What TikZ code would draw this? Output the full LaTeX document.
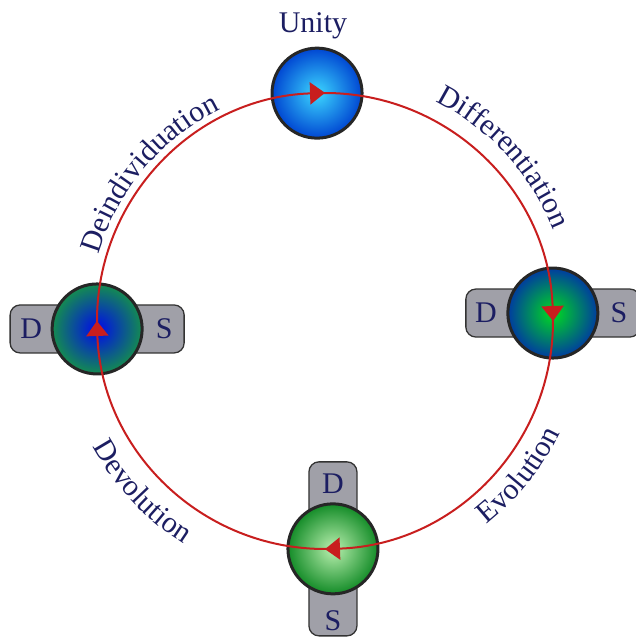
\documentclass[tikz,border=0pt]{standalone}
\usepackage{fontspec}
\setmainfont{Liberation Serif}
\usetikzlibrary{arrows.meta,decorations.text}

\definecolor{ink}{RGB}{28,30,98}
\definecolor{trackred}{RGB}{200,30,30}
\definecolor{tabgray}{RGB}{160,160,168}
\definecolor{uniIn}{RGB}{60,215,255}
\definecolor{uniOut}{RGB}{0,70,210}
\definecolor{rtIn}{RGB}{0,220,30}
\definecolor{rtOut}{RGB}{0,60,160}
\definecolor{btIn}{RGB}{185,240,175}
\definecolor{btOut}{RGB}{20,140,40}
\definecolor{lfIn}{RGB}{0,10,235}
\definecolor{lfOut}{RGB}{20,140,80}

\begin{document}
\begin{tikzpicture}[x=1pt, y=1pt,
  tab/.style={draw=black!80, line width=1.3pt, fill=tabgray,
              rounded corners=10pt, minimum width=174pt, minimum height=48pt},
  tabv/.style={tab, minimum width=48pt, minimum height=174pt},
  ball/.style={circle, draw=black!85, line width=3pt,
               minimum size=90pt, inner sep=0pt},
  lbl/.style={text=ink, font=\fontsize{30}{30}\selectfont},
  track/.style={draw=trackred, line width=2pt,
                -{Triangle[length=15pt, width=22pt]}, shorten >=-8pt},
  arclbl/.style={decorate, decoration={text along path, text align=center,
                 text color=ink, text={|\fontsize{30}{30}\selectfont|#1}}}
]
  \useasboundingbox (-325,-319) rectangle (311,321);
  \coordinate (o) at (0,0);

  % tabs behind the balls
  \node[tab]  (lftab) at (182:228) {};
  \node[tab]  (rttab) at (2:228)   {};
  \node[tabv] (bttab) at (272:228) {};

  \node[ball, inner color=uniIn, outer color=uniOut] (uni) at (92:228)  {};
  \node[ball, inner color=rtIn,  outer color=rtOut]  (rt)  at (2:228)   {};
  \node[ball, inner color=btIn,  outer color=btOut]  (bt)  at (272:228) {};
  \node[ball, inner color=lfIn,  outer color=lfOut]  (lf)  at (182:228) {};

  \node[lbl, anchor=base] (unitxt) at (-12,288) {Unity};
  \node[lbl] (lfD) at ([xshift=-66pt]lf.center) {D};
  \node[lbl] (lfS) at ([xshift=67pt]lf.center)  {S};
  \node[lbl] (rtD) at ([xshift=-67pt]rt.center) {D};
  \node[lbl] (rtS) at ([xshift=66pt]rt.center)  {S};
  \node[lbl] (btD) at ([yshift=65pt]bt.center)  {D};
  \node[lbl] (btS) at ([yshift=-72pt]bt.center) {S};

  % the cycle
  \draw[track] (uni.center) arc[start angle=92,  end angle=2,   radius=228pt];
  \draw[track] (rt.center)  arc[start angle=2,   end angle=-88, radius=228pt];
  \draw[track] (bt.center)  arc[start angle=272, end angle=182, radius=228pt];
  \draw[track] (lf.center)  arc[start angle=182, end angle=92,  radius=228pt];

  % curved labels
  \path[arclbl=Deindividuation] (o) ++(185:236) arc[start angle=185, end angle=95, radius=236pt];
  \path[arclbl=Differentiation] (o) ++(88:246)  arc[start angle=88,  end angle=-3, radius=246pt];
  \path[arclbl=Evolution]       (o) ++(-79:260) arc[start angle=-79, end angle=2,  radius=260pt];
  \path[arclbl=Devolution]      (o) ++(183:264) arc[start angle=183, end angle=263, radius=264pt];
\end{tikzpicture}
\end{document}
